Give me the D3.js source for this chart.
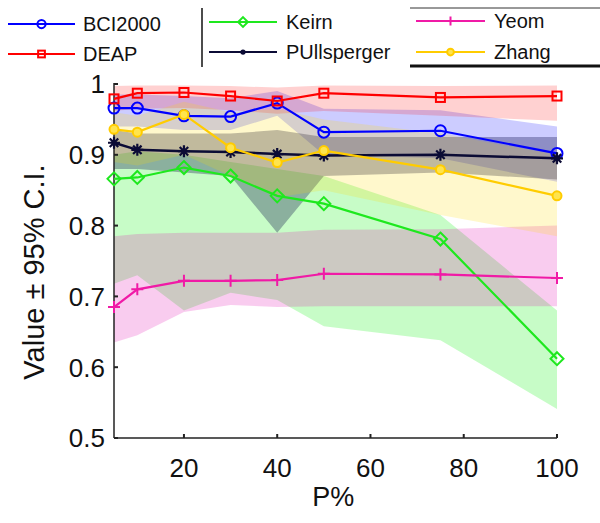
<!DOCTYPE html>
<html>
<head>
<meta charset="utf-8">
<script src="https://cdn.jsdelivr.net/npm/d3@7"></script>
<style>
  body { margin: 0; background: #fff; }
  svg { font-family: "Liberation Sans", Arial, Helvetica, sans-serif; }
</style>
</head>
<body>
<div id="chart"></div>
<script>
// x values (P%)
const pct = [5, 10, 20, 30, 40, 50, 75, 100];

// series means and 95% C.I. bounds
const bciMean = [0.966, 0.966, 0.955, 0.954, 0.973, 0.932, 0.934, 0.902];
const bciLo   = [0.940, 0.940, 0.935, 0.935, 0.955, 0.900, 0.895, 0.862];
const bciHi   = [0.985, 0.985, 0.983, 0.980, 0.990, 0.965, 0.963, 0.940];

const deapMean = [0.979, 0.987, 0.988, 0.983, 0.976, 0.987, 0.981, 0.983];
const deapLo   = [0.962, 0.965, 0.966, 0.963, 0.958, 0.962, 0.955, 0.948];
const deapHi   = [0.997, 0.998, 0.998, 0.997, 0.995, 0.998, 0.997, 0.998];

const keirnMean = [0.866, 0.868, 0.882, 0.870, 0.842, 0.831, 0.781, 0.612];
const keirnLo   = [0.718, 0.730, 0.680, 0.705, 0.695, 0.658, 0.638, 0.541];
const keirnHi   = [0.900, 0.905, 0.900, 0.890, 0.880, 0.870, 0.815, 0.680];

const pullMean = [0.917, 0.907, 0.905, 0.904, 0.901, 0.899, 0.900, 0.895];
const pullLo   = [0.880, 0.880, 0.875, 0.870, 0.790, 0.870, 0.875, 0.865];
const pullHi   = [0.935, 0.930, 0.930, 0.930, 0.935, 0.925, 0.925, 0.925];

const yeomMean = [0.685, 0.710, 0.722, 0.722, 0.723, 0.732, 0.731, 0.726];
const yeomLo   = [0.635, 0.645, 0.678, 0.688, 0.685, 0.686, 0.686, 0.686];
const yeomHi   = [0.785, 0.788, 0.790, 0.790, 0.790, 0.794, 0.795, 0.800];

const zhangMean = [0.936, 0.932, 0.957, 0.910, 0.889, 0.906, 0.879, 0.842];
const zhangLo   = [0.890, 0.885, 0.900, 0.870, 0.840, 0.850, 0.815, 0.785];
const zhangHi   = [0.960, 0.955, 0.975, 0.960, 0.965, 0.950, 0.930, 0.900];

const yTicks = [0.5, 0.6, 0.7, 0.8, 0.9, 1];
const xTicks = [20, 40, 60, 80, 100];

const series = [
  {name: "BCI2000", color: "#0000ff", band: "#0000ff", op: 0.2, mark: "circle", mean: bciMean, lo: bciLo, hi: bciHi},
  {name: "DEAP", color: "#ff0000", band: "#ff0000", op: 0.18, mark: "square", mean: deapMean, lo: deapLo, hi: deapHi},
  {name: "Keirn", color: "#1ee81e", band: "#00f000", op: 0.22, mark: "diamond", mean: keirnMean, lo: keirnLo, hi: keirnHi},
  {name: "PUllsperger", color: "#0b0b35", band: "#000040", op: 0.3, mark: "star", mean: pullMean, lo: pullLo, hi: pullHi},
  {name: "Yeom", color: "#f01aa6", band: "#e000b0", op: 0.2, mark: "plus", mean: yeomMean, lo: yeomLo, hi: yeomHi},
  {name: "Zhang", color: "#ffcc00", band: "#ffdd00", op: 0.2, mark: "dot", mean: zhangMean, lo: zhangLo, hi: zhangHi}
];

const W = 600, H = 523;
const margin = {top: 84, right: 43, bottom: 85, left: 114};

const svg = d3.select("#chart").append("svg")
  .attr("width", W).attr("height", H);

const x = d3.scaleLinear().domain([5, 100]).range([margin.left, W - margin.right]);
const y = d3.scaleLinear().domain([0.5, 1]).range([H - margin.bottom, margin.top]);

// confidence bands
const area = d3.area()
  .x(d => x(d.p)).y0(d => y(d.lo)).y1(d => y(d.hi));

series.forEach(s => {
  const pts = pct.map((p, i) => ({p: p, lo: s.lo[i], hi: s.hi[i]}));
  svg.append("path")
    .datum(pts)
    .attr("d", area)
    .attr("fill", s.band)
    .attr("fill-opacity", s.op);
});

// axes (MATLAB style, ticks inward)
const axisG = svg.append("g").attr("stroke", "#222");
axisG.append("line")
  .attr("x1", x(5)).attr("x2", x(5))
  .attr("y1", y(1) - 1).attr("y2", y(0.5))
  .attr("stroke-width", 1.5);
axisG.append("line")
  .attr("x1", x(5)).attr("x2", x(100))
  .attr("y1", y(0.5)).attr("y2", y(0.5))
  .attr("stroke-width", 1.5);
axisG.selectAll(".yt").data(yTicks).enter().append("line")
  .attr("x1", x(5)).attr("x2", x(5) + 4)
  .attr("y1", d => y(d)).attr("y2", d => y(d))
  .attr("stroke-width", 2);
axisG.selectAll(".xt").data(xTicks).enter().append("line")
  .attr("x1", d => x(d)).attr("x2", d => x(d))
  .attr("y1", y(0.5)).attr("y2", y(0.5) - 4)
  .attr("stroke-width", 2);

svg.selectAll(".ylab").data(yTicks).enter().append("text")
  .attr("x", x(5) - 9)
  .attr("y", d => y(d))
  .attr("dy", "0.36em")
  .attr("text-anchor", "end")
  .style("font-size", "26px")
  .attr("fill", "#111")
  .text(d => d === 1 ? "1" : d3.format(".1f")(d));

svg.selectAll(".xlab").data(xTicks).enter().append("text")
  .attr("x", d => x(d))
  .attr("y", y(0.5) + 39)
  .attr("text-anchor", "middle")
  .style("font-size", "26px")
  .attr("fill", "#111")
  .text(d => d);

svg.append("text")
  .attr("x", x(52))
  .attr("y", H - 17)
  .attr("text-anchor", "middle")
  .style("font-size", "27px")
  .attr("fill", "#111")
  .text("P%");

svg.append("text")
  .attr("transform", `translate(44, 272) rotate(-90)`)
  .attr("text-anchor", "middle")
  .style("font-size", "29px")
  .attr("fill", "#111")
  .text("Value \u00b1 95% C.I.");

// markers
function drawMark(g, type, cx, cy, color, scale) {
  const k = scale || 1;
  if (type === "circle") {
    g.append("circle").attr("cx", cx).attr("cy", cy).attr("r", 5.5 * k)
      .attr("fill", "none").attr("stroke", color).attr("stroke-width", 2);
  } else if (type === "square") {
    g.append("rect").attr("x", cx - 4.5 * k).attr("y", cy - 4.5 * k)
      .attr("width", 9 * k).attr("height", 9 * k)
      .attr("fill", "none").attr("stroke", color).attr("stroke-width", 2);
  } else if (type === "diamond") {
    const r = 6.5 * k;
    g.append("path")
      .attr("d", `M${cx},${cy - r}L${cx + r},${cy}L${cx},${cy + r}L${cx - r},${cy}Z`)
      .attr("fill", "none").attr("stroke", color).attr("stroke-width", 2);
  } else if (type === "star") {
    const r = 6 * k;
    let d = "";
    [0, 45, 90, 135].forEach(a => {
      const t = a * Math.PI / 180;
      d += `M${cx - r * Math.cos(t)},${cy - r * Math.sin(t)}L${cx + r * Math.cos(t)},${cy + r * Math.sin(t)}`;
    });
    g.append("path").attr("d", d).attr("stroke", color).attr("stroke-width", 2.2);
  } else if (type === "plus") {
    const r = 6 * k;
    g.append("path")
      .attr("d", `M${cx - r},${cy}L${cx + r},${cy}M${cx},${cy - r}L${cx},${cy + r}`)
      .attr("stroke", color).attr("stroke-width", 2);
  } else if (type === "dot") {
    g.append("circle").attr("cx", cx).attr("cy", cy).attr("r", 4.5 * k)
      .attr("fill", "#ffe44d").attr("stroke", color).attr("stroke-width", 2);
  } else if (type === "fill") {
    g.append("circle").attr("cx", cx).attr("cy", cy).attr("r", 3.5 * k)
      .attr("fill", color);
  }
}

// lines + markers
const line = d3.line().x(d => x(d.p)).y(d => y(d.v));
series.forEach(s => {
  const pts = pct.map((p, i) => ({p: p, v: s.mean[i]}));
  const g = svg.append("g");
  g.append("path")
    .datum(pts)
    .attr("d", line)
    .attr("fill", "none")
    .attr("stroke", s.color)
    .attr("stroke-width", s.name === "PUllsperger" ? 2.5 : 2.2);
  pts.forEach(d => drawMark(g, s.mark, x(d.p), y(d.v), s.color, 1));
});

// legend (three boxes along the top)
const legendCols = [
  {x0: 8, lineLen: 67, textX: 83, rows: [{s: 0, y: 24}, {s: 1, y: 54}]},
  {x0: 209, lineLen: 68, textX: 286, rows: [{s: 2, y: 22}, {s: 3, y: 52}]},
  {x0: 416, lineLen: 69, textX: 494, rows: [{s: 4, y: 21}, {s: 5, y: 52}]}
];
const leg = svg.append("g");
legendCols.forEach(c => {
  c.rows.forEach(r => {
    const s = series[r.s];
    leg.append("line")
      .attr("x1", c.x0).attr("x2", c.x0 + c.lineLen)
      .attr("y1", r.y).attr("y2", r.y)
      .attr("stroke", s.color).attr("stroke-width", 2);
    const mark = s.mark === "star" ? "fill" : s.mark;
    drawMark(leg, mark, c.x0 + c.lineLen / 2, r.y, s.color, 0.75);
    leg.append("text")
      .attr("x", c.textX).attr("y", r.y)
      .attr("dy", "0.36em")
      .style("font-size", "20px")
      .attr("fill", "#111")
      .text(s.name);
  });
});
leg.append("line")
  .attr("x1", 202).attr("x2", 202).attr("y1", 8).attr("y2", 67)
  .attr("stroke", "#111").attr("stroke-width", 1.5);
leg.append("line")
  .attr("x1", 410).attr("x2", 600).attr("y1", 8).attr("y2", 8)
  .attr("stroke", "#333").attr("stroke-width", 1);
leg.append("line")
  .attr("x1", 410).attr("x2", 600).attr("y1", 66).attr("y2", 66)
  .attr("stroke", "#111").attr("stroke-width", 3);
</script>
</body>
</html>
